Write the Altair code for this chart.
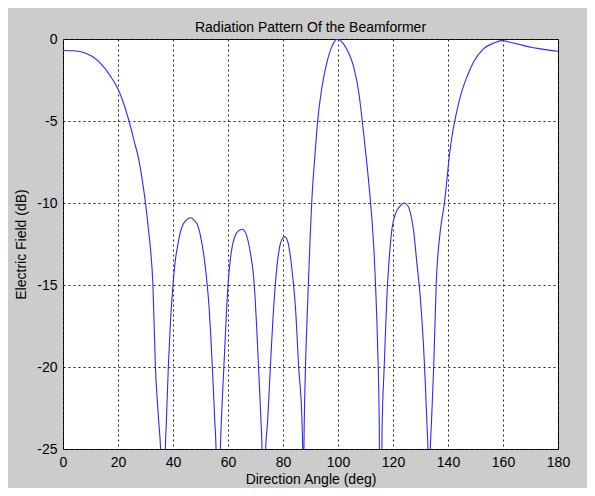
import altair as alt
import pandas as pd

# Direction angle (deg) and electric field (dB)
angle = [0, 4, 8, 11, 14, 17, 20, 22, 24, 26, 27.5, 29, 30, 31, 31.7, 32.7, 33.6, 34.8, 35.6,
         36.4,
         37.2, 37.6, 38.3, 39.0, 40, 41, 41.6, 42.5, 43.4, 44.5, 46.4, 48, 48.8, 50, 51.3, 52.2,
         53.1, 53.7, 54.3, 54.8, 55.2, 55.7,
         56.4,
         57.2, 57.6, 58.5, 59.2, 60, 60.8, 61.6, 62.6, 63.8, 65.2, 66.6, 68.2, 69.2, 69.9, 70.5,
         71.1, 71.6, 72.0, 72.4,
         73.0,
         73.6, 74.4, 75.4, 76.2, 77.2, 78.2, 79.2, 80.6, 81.8, 82.8, 83.6, 84.5, 85.7, 86.9, 87.2,
         87.4,
         87.6, 88.1, 88.7, 89.3, 89.9, 90.5, 91.7, 92.6, 94.2, 96.0, 97.8, 99.9, 102.0, 104.0,
         105.7, 107.5, 108.7, 110.5, 112.0, 112.9, 113.6, 114.4, 115.0,
         115.5,
         116.0, 116.8, 118.0, 118.8, 119.6, 120.8, 122.5, 124.1, 125.5, 126.7, 127.5, 128.7,
         129.9, 131.1, 131.7, 132.4, 132.8,
         133.1,
         133.5, 133.9, 134.8, 135.7, 137.2, 138.7, 139.6, 140.5, 141.5, 142.7, 144.5, 146.9,
         149.3, 152.9, 156.6, 159.6, 162.7, 165.7, 168.7, 171.2, 173.6, 176.6, 180]
field_db = [-0.7, -0.72, -0.85, -1.1, -1.55, -2.2, -3.05, -3.9, -5.0, -6.3, -7.3, -8.8, -10.0,
            -11.5, -12.6, -15.0, -20.0, -23.3, -25.5,
            -40,
            -25.2, -23.3, -20.0, -17.5, -15.0, -13.3, -12.7, -11.9, -11.4, -11.1, -10.9, -11.1,
            -11.3, -12.0, -13.3, -14.6, -16.3, -18.0, -20.0, -21.8, -23.3, -25.3,
            -40,
            -25.3, -23.3, -20.0, -17.5, -15.0, -13.5, -12.6, -12.0, -11.7, -11.6, -11.9, -13.1,
            -14.3, -15.9, -17.8, -20.0, -21.8, -23.3, -25.3,
            -40,
            -25.3, -23.3, -20.0, -17.5, -15.0, -13.3, -12.4, -12.05, -12.4, -13.4, -14.6, -16.3,
            -20.0, -23.3, -25.5,
            -40,
            -25.2, -20.5, -17.3, -14.6, -12.0, -9.8, -6.9, -5.0, -2.9, -1.4, -0.45, 0.0, -0.3,
            -0.9, -1.7, -3.2, -4.8, -7.6, -10.3, -12.4, -14.8, -18.7, -23.5,
            -40,
            -24.0, -20.0, -15.0, -13.0, -11.6, -10.7, -10.2, -10.0, -10.2, -10.9, -11.7, -13.7,
            -15.7, -18.7, -20.8, -23.7, -25.5,
            -40,
            -25.5, -23.7, -20.0, -15.0, -11.7, -10.0, -8.6, -7.1, -5.9, -4.8, -3.5, -2.3,
            -1.4, -0.6, -0.25, -0.1, -0.2, -0.32, -0.45, -0.53, -0.6, -0.68, -0.75]

x_ticks = [0, 20, 40, 60, 80, 100, 120, 140, 160, 180]
y_ticks = [-25, -20, -15, -10, -5, 0]

df = pd.DataFrame({"angle": angle, "db": field_db})

FONT = "Liberation Sans"

chart = alt.Chart(df).mark_line(
    color="#2a2aff", strokeWidth=1.1, clip=True, interpolate="monotone"
).encode(
    x=alt.X("angle:Q",
            scale=alt.Scale(domain=[0, 180], nice=False, zero=False),
            axis=alt.Axis(values=x_ticks, title="Direction Angle (deg)",
                          labelExpr="datum.value + ''", labelFlush=False)),
    y=alt.Y("db:Q",
            scale=alt.Scale(domain=[-25, 0], nice=False, zero=False),
            axis=alt.Axis(values=y_ticks, title="Electric Field (dB)",
                          labelExpr="datum.value + ''")),
).properties(
    width=495,
    height=410,
    title=alt.TitleParams("Radiation Pattern Of the Beamformer", font=FONT, fontSize=14,
                          fontWeight="normal", color="black", offset=1, dy=4,
                          anchor="middle"),
    autosize=alt.AutoSizeParams(type="none"),
    padding={"left": 55, "top": 31, "right": 29, "bottom": 39},
    background="#cccccc",
).configure_view(
    fill="white", stroke="black", strokeWidth=1
).configure_axis(
    labelFont=FONT, labelFontSize=14, labelColor="black",
    titleFont=FONT, titleFontSize=14, titleFontWeight="normal", titleColor="black",
    grid=True, gridColor="#222222", gridDash=[2, 3], gridWidth=1, gridOpacity=1,
    ticks=False, domain=False, labelPadding=6,
).configure_axisX(
    titlePadding=3
).configure_axisY(
    titlePadding=8
)

chart.save("out.html", embed_options={"renderer": "svg", "actions": False})
